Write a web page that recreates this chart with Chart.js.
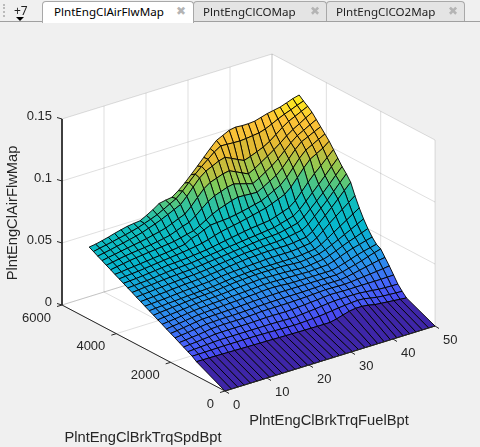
<!DOCTYPE html>
<html>
<head>
<meta charset="utf-8">
<script src="https://cdn.jsdelivr.net/npm/chart.js@4"></script>
<style>
html, body { margin: 0; padding: 0; background: #f0f0f0; overflow: hidden; }
#wrap { position: relative; width: 480px; height: 447px; }
canvas { position: absolute; left: 0; top: 0; }
.strip { position: absolute; left: 0; top: 21px; width: 480px; height: 1px; background: #a0a0a0; }
.tab { position: absolute; top: 1px; height: 20px; box-sizing: border-box; border: 1px solid #a8a8a8; border-bottom: none;
       border-radius: 4px 4px 0 0; background: #e4e4e4; font: 11.6px "Noto Sans", sans-serif; color: #222; line-height: 19px; }
.tab.on { background: #fff; color: #000; height: 22px; z-index: 2; }
.tab span { position: absolute; white-space: nowrap; }
.tab .x { color: #b4b4b4; font: bold 12px "DejaVu Sans", sans-serif; line-height: 19px; }
#more { position: absolute; left: 14px; top: 2px; font: 12px "Noto Sans", sans-serif; color: #222; }
#arrow { position: absolute; left: 16px; top: 17px; width: 0; height: 0; border: 4px solid transparent; border-top: 4px solid #000; }
#grip { position: absolute; left: 3px; top: 4px; width: 2px; height: 13px; border-left: 2px dotted #bbb; }
</style>
</head>
<body>
<div id="wrap">
  <canvas id="surf" width="480" height="447"></canvas>
  <div class="strip"></div>
  <div id="grip"></div>
  <div id="more">+7</div>
  <div id="arrow"></div>
  <div class="tab on" style="left:42px;width:152px"><span style="left:11px">PlntEngClAirFlwMap</span><span class="x" style="left:133px">&#10006;</span></div>
  <div class="tab" style="left:193px;width:134px"><span style="left:9px">PlntEngClCOMap</span><span class="x" style="left:116px">&#10006;</span></div>
  <div class="tab" style="left:326px;width:139px"><span style="left:9px">PlntEngClCO2Map</span><span class="x" style="left:121px">&#10006;</span></div>
</div>
<script>
const fuelBpt = [0,1.52,3.03,4.55,6.06,7.58,9.09,10.61,12.12,13.64,15.15,16.67,18.18,19.7,21.21,22.73,24.24,25.76,27.27,28.79,30.3,31.82,33.33,34.85,36.36,37.88,39.39,40.91,42.42,43.94,45.45,46.97,48.48,50];
const spdBpt = [0,1050,1208,1366,1524,1682,1840,1998,2156,2314,2472,2630,2788,2946,3104,3262,3420,3578,3736,3894,4052,4210,4368,4526,4684,4842,5000];
const airFlwMap = [
[0,0,0,0,0,0,0,0,0,0,0,0,0,0,0,0,0,0,0,0,0,0,0,0,0,0,0,0,0,0,0,0,0,0],
[.0115,.0114,.0114,.0113,.0112,.0111,.011,.0109,.0108,.0107,.0106,.0105,.0104,.0103,.0102,.0101,.01,.0099,.0099,.0098,.0098,.0098,.011,.0125,.014,.0148,.0148,.0142,.013,.0125,.012,.0115,.011,.0105],
[.0141,.0141,.0142,.0143,.0144,.0145,.0145,.0145,.0145,.0145,.0145,.0143,.0142,.014,.0139,.0137,.0136,.0137,.014,.0143,.0146,.0152,.0158,.0165,.017,.0175,.0178,.0175,.0165,.0155,.015,.0146,.0143,.014],
[.0159,.0162,.0166,.0169,.0172,.0175,.0175,.0175,.0175,.0175,.0175,.0175,.0175,.0175,.0174,.0172,.0171,.0172,.0177,.0181,.0186,.0192,.0198,.0203,.0204,.0205,.0205,.0203,.0198,.0192,.0186,.0183,.0181,.018],
[.0178,.0183,.0187,.0192,.0197,.0203,.0204,.0205,.0205,.0205,.0205,.0207,.0208,.021,.021,.0209,.0208,.021,.0213,.0217,.0221,.0225,.023,.0235,.0234,.0232,.0231,.0232,.0232,.0232,.0232,.0232,.0233,.0235],
[.0196,.0201,.0207,.0212,.0219,.0227,.023,.0232,.0232,.0232,.0232,.0235,.0238,.0241,.0242,.0242,.0242,.0242,.0244,.0246,.0248,.0251,.0254,.0257,.0256,.0254,.0253,.0257,.0262,.0267,.0272,.0277,.0283,.029],
[.0215,.0221,.0227,.0234,.0242,.0248,.025,.0252,.0253,.0253,.0254,.0257,.0259,.0262,.0263,.0265,.0266,.0267,.0267,.0267,.0267,.0269,.027,.0272,.0272,.0272,.0272,.0279,.0289,.03,.0311,.0322,.0332,.034],
[.0233,.024,.0247,.0255,.0262,.0269,.0271,.0273,.0274,.0276,.0277,.028,.0283,.0286,.0288,.029,.0291,.0292,.0292,.0292,.0292,.0292,.0292,.0292,.0292,.0292,.0292,.0301,.0314,.0328,.0342,.036,.0376,.039],
[.0251,.0258,.0264,.0271,.0278,.0285,.0288,.0291,.0294,.0297,.03,.0303,.0306,.0309,.0312,.0316,.0319,.0319,.0316,.0312,.031,.031,.031,.031,.031,.031,.031,.0323,.0338,.0355,.0372,.0385,.0398,.041],
[.027,.0276,.0282,.0288,.0295,.0301,.0306,.0309,.0312,.0315,.0318,.0321,.0324,.0327,.033,.0334,.0337,.0337,.0336,.0334,.0333,.0331,.033,.0328,.0331,.0334,.0337,.0352,.0372,.0392,.0408,.0421,.0436,.045],
[.0288,.0294,.0299,.0305,.031,.0316,.0323,.0326,.0329,.0332,.0335,.034,.0345,.0349,.0352,.0356,.0359,.0359,.0357,.0356,.0354,.0351,.0348,.0345,.035,.0357,.0363,.0379,.04,.0422,.0442,.046,.048,.05],
[.0307,.0313,.0318,.0323,.0328,.0333,.0338,.0341,.0344,.0347,.0351,.0357,.0363,.0369,.0372,.0376,.0379,.038,.038,.038,.038,.0377,.0373,.037,.0375,.0382,.0388,.0406,.043,.0455,.048,.0506,.0533,.056],
[.0325,.0329,.0333,.0337,.034,.0344,.0348,.0351,.0354,.0357,.0361,.0367,.0373,.0379,.0382,.0386,.0389,.039,.039,.039,.039,.039,.039,.039,.0395,.0402,.0408,.043,.0463,.0497,.053,.0563,.0597,.063],
[.0343,.0347,.035,.0354,.0358,.0363,.0367,.0371,.0374,.0377,.0381,.0387,.0393,.0399,.0402,.0406,.0409,.0412,.0415,.0418,.042,.042,.042,.042,.0425,.0432,.0438,.0465,.0507,.0551,.0592,.0631,.0671,.071],
[.0362,.0366,.037,.0374,.0378,.0383,.0387,.0391,.0394,.0397,.0401,.0407,.0413,.0419,.0425,.0431,.0437,.0442,.0445,.0448,.045,.045,.045,.045,.0455,.0462,.0468,.0499,.0547,.0596,.0645,.0696,.0749,.08],
[.038,.0385,.0389,.0394,.0398,.0403,.0407,.0411,.0414,.0417,.0421,.0427,.0433,.0439,.0445,.0451,.0457,.0462,.0465,.0468,.0471,.0474,.0477,.048,.0488,.0497,.0506,.0539,.0587,.0636,.0686,.074,.0796,.085],
[.0399,.0404,.0409,.0413,.0418,.0423,.0427,.0431,.0434,.0437,.0441,.0447,.0453,.0459,.0465,.0471,.0477,.0483,.0489,.0495,.0501,.0504,.0507,.051,.0521,.0533,.0545,.0579,.0627,.0676,.0726,.078,.0836,.089],
[.0417,.0421,.0425,.0429,.0434,.044,.0446,.0451,.0454,.0457,.0461,.0467,.0473,.0479,.0485,.0491,.0497,.0503,.0509,.0515,.0521,.0527,.0533,.0539,.0554,.0569,.0584,.0621,.0672,.0724,.0776,.083,.0886,.094],
[.0436,.044,.0444,.0449,.0454,.046,.0466,.0471,.0474,.0477,.0481,.0487,.0493,.0499,.0507,.0517,.0526,.0535,.0544,.0553,.0561,.0567,.0573,.0579,.0596,.0615,.0633,.0674,.0731,.079,.0844,.0892,.0942,.099],
[.0454,.0459,.0464,.0468,.0474,.048,.0486,.0492,.0498,.0504,.051,.0517,.0525,.0535,.0548,.0565,.058,.059,.06,.061,.0622,.0634,.0647,.0659,.0679,.07,.0722,.0766,.0826,.0888,.0942,.0971,.1,.104],
[.0472,.0477,.0483,.0488,.0494,.05,.0506,.0512,.0518,.0524,.0531,.054,.057,.0585,.0608,.063,.0635,.0638,.0643,.0652,.0662,.0674,.0687,.0699,.0724,.0752,.0779,.0826,.0886,.0948,.0998,.1025,.1053,.108],
[.0491,.05,.0508,.0517,.0524,.053,.0536,.0542,.0548,.0554,.0561,.0573,.0586,.0598,.0624,.0655,.0685,.0709,.0727,.0746,.0759,.0756,.0753,.075,.0777,.0808,.0838,.0884,.0941,.1,.1047,.1071,.1096,.112],
[.0509,.0518,.0528,.0537,.0544,.055,.0556,.0563,.0572,.0581,.0592,.0612,.0632,.0648,.0684,.0727,.0769,.0799,.0817,.0836,.0847,.0832,.0817,.0801,.083,.0864,.0897,.0939,.0987,.1036,.1078,.1105,.1133,.116],
[.0528,.0538,.0547,.0557,.0566,.0575,.0584,.0594,.0606,.0618,.0632,.0653,.0675,.0696,.0743,.0799,.0853,.0889,.0907,.0926,.0935,.0911,.0886,.0862,.089,.0924,.0957,.0993,.1032,.1073,.1109,.1139,.117,.12],
[.0546,.0556,.0566,.0577,.0588,.06,.0612,.0626,.0644,.0662,.0683,.0706,.0731,.0755,.0806,.0865,.0922,.0962,.0986,.1011,.1025,.1001,.0976,.0952,.0969,.0991,.1012,.1043,.1082,.1123,.1157,.1181,.1206,.123],
[.0565,.0576,.0586,.0597,.0608,.062,.0632,.0646,.0664,.0682,.0703,.073,.0758,.0785,.083,.0884,.0935,.0981,.1023,.1066,.1099,.1096,.1093,.1091,.1095,.1102,.1108,.1124,.1148,.1173,.1196,.1215,.1236,.1255],
[.0583,.059,.0602,.0615,.063,.0643,.0655,.0662,.0668,.0695,.0725,.076,.077,.0778,.0815,.086,.0912,.0965,.102,.1075,.1125,.115,.1175,.1185,.118,.118,.1185,.12,.1215,.1225,.1235,.1253,.1272,.1285]
];
const fuelTicks = [0,10,20,30,40,50];
const spdTicks = [0,2000,4000,6000];
const zTicks = [0,0.05,0.1,0.15];
const zTickLabels = ['0','0.05','0.1','0.15'];
const parulaStops = [0,0.07,0.14,0.25,0.375,0.5,0.625,0.75,0.875,1];
const parulaRgb = [[62,38,168],[72,68,238],[70,100,250],[39,150,235],[6,182,205],[18,190,185],[129,204,89],[225,185,50],[254,195,56],[249,251,21]];

// view of the matlab axes box, fuel goes right/up, speed goes left/up
function project(f, s, z) {
    return {
        x: 225 + f / 50 * 210 - s / 6000 * 163,
        y: 391 - f / 50 * 65 - s / 6000 * 86 - z / 0.15 * 186
    };
}

function parula(v) {
    const t = Math.min(1, Math.max(0, v / 0.1285));
    let i = 0;
    while (i < parulaStops.length - 2 && t > parulaStops[i + 1]) i++;
    const a = (t - parulaStops[i]) / (parulaStops[i + 1] - parulaStops[i]);
    const c = [0, 1, 2].map(k => Math.round(parulaRgb[i][k] + a * (parulaRgb[i + 1][k] - parulaRgb[i][k])));
    return 'rgb(' + c.join(',') + ')';
}

function lineSet(points, color, width) {
    return { data: points, showLine: true, pointRadius: 0, borderColor: color, borderWidth: width, fill: false, clip: false };
}

const datasets = [];
const axisColor = '#262626';
const gridColor = 'rgba(38,38,38,0.15)';

// axis lines and tick marks (on top)
datasets.push(lineSet([project(0,6000,0.15), project(0,6000,0)], axisColor, 1));
datasets.push(lineSet([project(0,6000,0), project(0,0,0)], axisColor, 1));
datasets.push(lineSet([project(0,0,0), project(50,0,0)], axisColor, 1));
zTicks.forEach(z => {
    const p = project(0,6000,z);
    datasets.push(lineSet([p, {x: p.x - 5, y: p.y - 1.5}], axisColor, 1));
});
spdTicks.forEach(s => {
    const p = project(0,s,0);
    datasets.push(lineSet([p, {x: p.x - 5, y: p.y + 1.5}], axisColor, 1));
});
fuelTicks.forEach(f => {
    const p = project(f,0,0);
    datasets.push(lineSet([p, {x: p.x + 4, y: p.y + 2.5}], axisColor, 1));
});

// surface, nearest cell first because chart.js paints the last dataset first
for (let r = 0; r < spdBpt.length - 1; r++) {
    for (let c = 0; c < fuelBpt.length - 1; c++) {
        const pts = [
            project(fuelBpt[c], spdBpt[r], airFlwMap[r][c]),
            project(fuelBpt[c + 1], spdBpt[r], airFlwMap[r][c + 1]),
            project(fuelBpt[c + 1], spdBpt[r + 1], airFlwMap[r + 1][c + 1]),
            project(fuelBpt[c], spdBpt[r + 1], airFlwMap[r + 1][c])
        ];
        pts.push(pts[0]);
        datasets.push({
            data: pts, showLine: true, pointRadius: 0, fill: 'shape', clip: false,
            backgroundColor: parula(airFlwMap[r][c]),
            borderColor: 'rgba(0,0,0,0.9)', borderWidth: 1
        });
    }
}

// grid on floor and both back walls
fuelTicks.forEach(f => {
    datasets.push(lineSet([project(f,0,0), project(f,6000,0), project(f,6000,0.15)], gridColor, 1));
});
spdTicks.forEach(s => {
    datasets.push(lineSet([project(0,s,0), project(50,s,0)], gridColor, 1));
    if (s > 0) datasets.push(lineSet([project(50,s,0), project(50,s,0.15)], gridColor, 1));
});
datasets.push(lineSet([project(50,0,0), project(50,0,0.15)], gridColor, 1));
zTicks.forEach(z => {
    datasets.push(lineSet([project(0,6000,z), project(50,6000,z), project(50,0,z)], gridColor, 1));
});

// white box behind everything
datasets.push({
    data: [project(0,6000,0), project(0,6000,0.15), project(50,6000,0.15), project(50,0,0.15), project(50,0,0), project(0,0,0), project(0,6000,0)],
    showLine: true, pointRadius: 0, fill: 'shape', backgroundColor: '#fff', borderWidth: 0, clip: false
});

const axisText = {
    id: 'axisText',
    afterDraw(chart) {
        const ctx = chart.ctx;
        const sx = chart.scales.x, sy = chart.scales.y;
        const put = (p, dx, dy, text, align) => {
            ctx.textAlign = align;
            ctx.fillText(text, sx.getPixelForValue(p.x) + dx, sy.getPixelForValue(p.y) + dy);
        };
        ctx.save();
        ctx.fillStyle = axisColor;
        ctx.textBaseline = 'middle';
        ctx.font = '13px "Liberation Sans"';
        zTicks.forEach((z, i) => put(project(0,6000,z), -10, -3, zTickLabels[i], 'right'));
        spdTicks.forEach(s => put(project(0,s,0), -11, 13, String(s), 'right'));
        fuelTicks.forEach(f => put(project(f,0,0), 8, 14, String(f), 'left'));
        ctx.font = '14.7px "Liberation Sans"';
        ctx.textAlign = 'center';
        ctx.fillText('PlntEngClBrkTrqFuelBpt', 329, 421);
        ctx.fillText('PlntEngClBrkTrqSpdBpt', 143, 438);
        ctx.translate(13, 213);
        ctx.rotate(-Math.PI / 2);
        ctx.fillText('PlntEngClAirFlwMap', 0, 0);
        ctx.restore();
    }
};

new Chart(document.getElementById('surf'), {
    type: 'scatter',
    data: { datasets: datasets },
    options: {
        responsive: false,
        animation: false,
        devicePixelRatio: 1,
        layout: { padding: 0 },
        plugins: { legend: { display: false }, tooltip: { enabled: false } },
        elements: { line: { tension: 0 } },
        scales: {
            x: { type: 'linear', display: false, min: 0, max: 480 },
            y: { type: 'linear', display: false, min: 0, max: 447, reverse: true }
        }
    },
    plugins: [axisText]
});
</script>
</body>
</html>
